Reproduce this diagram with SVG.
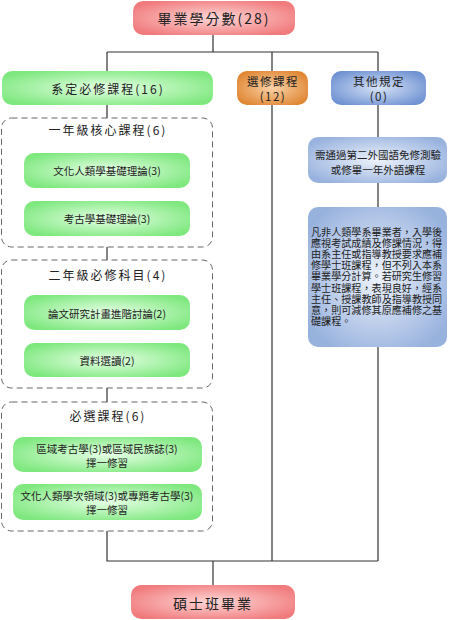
<svg xmlns="http://www.w3.org/2000/svg" width="450" height="620" viewBox="0 0 450 620">
<defs>
<radialGradient id="gPink" cx="50%" cy="50%" r="60%"><stop offset="0%" stop-color="#ffd6d6"/><stop offset="100%" stop-color="#f07a7c"/></radialGradient>
<radialGradient id="gGreen" cx="50%" cy="50%" r="60%"><stop offset="0%" stop-color="#e6ffe6"/><stop offset="100%" stop-color="#7ee87e"/></radialGradient>
<radialGradient id="gOrange" cx="50%" cy="50%" r="60%"><stop offset="0%" stop-color="#fad2a8"/><stop offset="100%" stop-color="#df8530"/></radialGradient>
<radialGradient id="gBlue" cx="50%" cy="50%" r="60%"><stop offset="0%" stop-color="#d6e2f6"/><stop offset="100%" stop-color="#6f92d2"/></radialGradient>
<radialGradient id="gBlueL" cx="50%" cy="50%" r="60%"><stop offset="0%" stop-color="#eef3fb"/><stop offset="100%" stop-color="#98b2de"/></radialGradient>
</defs>
<style>
.t{font-family:"Noto Sans CJK TC","Liberation Serif",serif;fill:#222;text-anchor:middle;dominant-baseline:central}
.h{font-size:12px;letter-spacing:2px}
.hs{font-size:11.5px;letter-spacing:1.5px}
.top{font-size:14px;letter-spacing:2px}
.s{font-size:10.5px}
.p{font-family:"Noto Sans CJK TC","Liberation Serif",serif;fill:#222;font-size:10.1px;dominant-baseline:central}
.dash{fill:#fff;stroke:#666;stroke-width:1;stroke-dasharray:6,4}
.ln{fill:none;stroke:#333;stroke-width:1.2}
</style>
<g id="connectors">
<path class="ln" d="M213 35V52M107 52H378M107 52V71M272 52V71M378 52V71"/>
<path class="ln" d="M107 105V118M107 247V260M107 388V402M107 531V561H378M272 105V561M378 105V137M378 183V207M378 347V561M213 561V585"/>
</g>
<g id="n-total"><rect x="133" y="1" width="162" height="34" rx="10" fill="url(#gPink)"/><text class="t top" x="214" y="18">畢業學分數(28)</text></g>
<g id="n-required"><rect x="2" y="71" width="211" height="34" rx="10" fill="url(#gGreen)"/><text class="t h" x="108" y="88">系定必修課程(16)</text></g>
<g id="n-elective"><rect x="237" y="71" width="71" height="34" rx="10" fill="url(#gOrange)"/><text class="t hs"><tspan x="273" y="81">選修課程</tspan><tspan x="273" y="96">(12)</tspan></text></g>
<g id="n-other"><rect x="331" y="71" width="95" height="34" rx="10" fill="url(#gBlue)"/><text class="t hs"><tspan x="379" y="81">其他規定</tspan><tspan x="379" y="96">(0)</tspan></text></g>
<g id="n-year1"><rect class="dash" x="1.5" y="118" width="211" height="129" rx="10"/><text class="t h" x="108" y="129">一年級核心課程(6)</text>
<rect x="24" y="153" width="166" height="35" rx="10" fill="url(#gGreen)"/><text class="t s" x="107" y="170">文化人類學基礎理論(3)</text>
<rect x="24" y="201" width="166" height="35" rx="10" fill="url(#gGreen)"/><text class="t s" x="107" y="218">考古學基礎理論(3)</text></g>
<g id="n-year2"><rect class="dash" x="1.5" y="260" width="211" height="128" rx="10"/><text class="t h" x="108" y="274">二年級必修科目(4)</text>
<rect x="24" y="295" width="166" height="35" rx="10" fill="url(#gGreen)"/><text class="t s" x="107" y="313">論文研究計畫進階討論(2)</text>
<rect x="24" y="343" width="166" height="34" rx="10" fill="url(#gGreen)"/><text class="t s" x="107" y="360">資料選讀(2)</text></g>
<g id="n-select"><rect class="dash" x="1.5" y="402" width="211" height="129" rx="10"/><text class="t h" x="108" y="415">必選課程(6)</text>
<rect x="13" y="437" width="189" height="35" rx="10" fill="url(#gGreen)"/><text class="t s"><tspan x="107" y="448">區域考古學(3)或區域民族誌(3)</tspan><tspan x="107" y="462">擇一修習</tspan></text>
<rect x="13" y="484" width="189" height="36" rx="10" fill="url(#gGreen)"/><text class="t s"><tspan x="107" y="495">文化人類學次領域(3)或專題考古學(3)</tspan><tspan x="107" y="509">擇一修習</tspan></text></g>
<g id="n-lang"><rect x="308" y="137" width="139" height="46" rx="10" fill="url(#gBlueL)"/><text class="t s"><tspan x="378" y="154">需通過第二外國語免修測驗</tspan><tspan x="378" y="169">或修畢一年外語課程</tspan></text></g>
<g id="n-nonmajor"><rect x="308" y="207" width="139" height="140" rx="10" fill="url(#gBlueL)"/>
<text class="p"><tspan x="311" y="231">凡非人類學系畢業者，入學後</tspan><tspan x="311" y="242.1">應視考試成績及修課情況，得</tspan><tspan x="311" y="253.2">由系主任或指導教授要求應補</tspan><tspan x="311" y="264.3">修學士班課程，但不列入本系</tspan><tspan x="311" y="275.4">畢業學分計算。若研究生修習</tspan><tspan x="311" y="286.5">學士班課程，表現良好，經系</tspan><tspan x="311" y="297.6">主任、授課教師及指導教授同</tspan><tspan x="311" y="308.7">意，則可減修其原應補修之基</tspan><tspan x="311" y="319.8">礎課程。</tspan></text></g>
<g id="n-grad"><rect x="131" y="585" width="164" height="34" rx="10" fill="url(#gPink)"/><text class="t top" x="213" y="603">碩士班畢業</text></g>
</svg>
